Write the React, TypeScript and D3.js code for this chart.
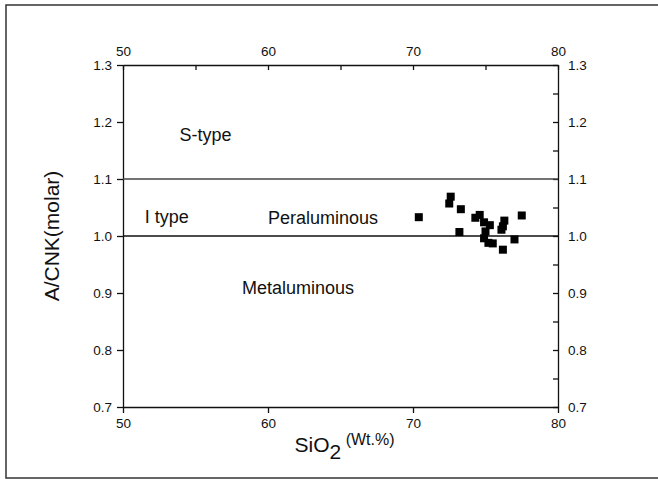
import React, { useEffect, useRef } from "react";
import * as d3 from "d3";

// sample points
const sio2 = [70.4, 72.6, 72.5, 73.3, 73.2, 74.3, 74.6, 74.9, 75.3, 75.0, 74.9, 75.2, 75.5, 76.3, 76.2, 76.1, 77.5, 77.0, 76.2];
const acnk = [1.033, 1.069, 1.057, 1.047, 1.007, 1.032, 1.037, 1.024, 1.019, 1.008, 0.996, 0.988, 0.987, 1.027, 1.017, 1.011, 1.036, 0.994, 0.976];

const xTicks = [50, 60, 70, 80];
const xMinor = [50, 55, 60, 65, 70, 75, 80];
const yTicks = [0.7, 0.8, 0.9, 1.0, 1.1, 1.2, 1.3];
const yMinor = [0.7, 0.75, 0.8, 0.85, 0.9, 0.95, 1.0, 1.05, 1.1, 1.15, 1.2, 1.25, 1.3];
const boundaries = [1.1, 1.0];
const fieldLabels = ["S-type", "I type", "Peraluminous", "Metaluminous"];

export default function App() {
    const ref = useRef<SVGSVGElement>(null);

    useEffect(() => {
        const width = 658;
        const height = 479;
        const margin = { top: 65, left: 123, bottom: 72, right: 100 };
        const iwidth = width - margin.left - margin.right;
        const iheight = height - margin.top - margin.bottom;
        const font = "'Liberation Sans', Arial, sans-serif";

        const root = d3.select(ref.current);
        root.selectAll("*").remove();

        // outer frame (right edge runs off the page)
        root.append("rect")
            .attr("x", 6).attr("y", 5)
            .attr("width", 660).attr("height", 473)
            .attr("fill", "none").attr("stroke", "#333").attr("stroke-width", 1.5);

        const svg = root.append("g").attr("transform", `translate(${margin.left},${margin.top})`);

        const x = d3.scaleLinear().domain([50, 80]).range([0, iwidth]);
        const y = d3.scaleLinear().domain([0.7, 1.3]).range([iheight, 0]);

        const fmtY = (v: number) => (Math.round(v * 100) % 10 === 0 ? d3.format(".1f")(v) : "");
        const fmtX = (v: number) => (v % 10 === 0 ? String(v) : "");

        const left = svg.append("g")
            .call(d3.axisLeft(y).tickValues(yTicks).tickFormat(d3.format(".1f")).tickSizeInner(6).tickSizeOuter(0).tickPadding(5));
        const right = svg.append("g")
            .attr("transform", `translate(${iwidth},0)`)
            .call(d3.axisRight(y).tickValues(yMinor).tickFormat(fmtY as any).tickSizeInner(-5).tickSizeOuter(0).tickPadding(10));
        const top = svg.append("g")
            .call(d3.axisTop(x).tickValues(xMinor).tickFormat(fmtX as any).tickSizeInner(-5).tickSizeOuter(0).tickPadding(9));
        const bottom = svg.append("g")
            .attr("transform", `translate(0,${iheight})`)
            .call(d3.axisBottom(x).tickValues(xTicks).tickSizeInner(6).tickSizeOuter(0).tickPadding(5));

        [left, right, top, bottom].forEach(g => {
            g.selectAll("path, line").attr("stroke", "#111").attr("stroke-width", 1.3);
            g.selectAll("text").attr("font-family", font).attr("font-size", 13.5).attr("fill", "#111");
        });

        // field boundaries
        svg.selectAll("line.bound").data(boundaries).enter().append("line")
            .attr("class", "bound")
            .attr("x1", 0).attr("x2", iwidth)
            .attr("y1", d => y(d)).attr("y2", d => y(d))
            .attr("stroke", (d, i) => (i === 0 ? "#444" : "#111"))
            .attr("stroke-width", 1.3);

        // field names
        const anchors = [[53.9, 1.167], [51.5, 1.022], [60.0, 1.021], [58.2, 0.898]];
        svg.selectAll("text.field").data(fieldLabels).enter().append("text")
            .attr("class", "field")
            .attr("x", (d, i) => x(anchors[i][0]))
            .attr("y", (d, i) => y(anchors[i][1]))
            .attr("font-family", font).attr("font-size", 18).attr("fill", "#111")
            .text(d => d);

        // samples
        const pts = sio2.map((v, i) => ({ sio2: v, acnk: acnk[i] }));
        svg.selectAll("rect.pt").data(pts).enter().append("rect")
            .attr("class", "pt")
            .attr("x", d => x(d.sio2) - 4)
            .attr("y", d => y(d.acnk) - 4)
            .attr("width", 8).attr("height", 8)
            .attr("fill", "#000");

        // axis titles
        const xt = svg.append("text")
            .attr("x", iwidth / 2 + 4).attr("y", iheight + 45)
            .attr("text-anchor", "middle")
            .attr("font-family", font).attr("font-size", 21).attr("fill", "#111");
        xt.append("tspan").text("SiO");
        xt.append("tspan").attr("dy", 7).text("2");
        xt.append("tspan").attr("dy", -14).attr("font-size", 16).text(" (Wt.%)");

        svg.append("text")
            .attr("transform", `translate(${-64},${iheight / 2}) rotate(-90)`)
            .attr("text-anchor", "middle")
            .attr("font-family", font).attr("font-size", 21).attr("fill", "#111")
            .text("A/CNK(molar)");
    }, []);

    return (
        <svg ref={ref} width={658} height={479} style={{ position: "absolute", left: 0, top: 0 }}></svg>
    );
}
